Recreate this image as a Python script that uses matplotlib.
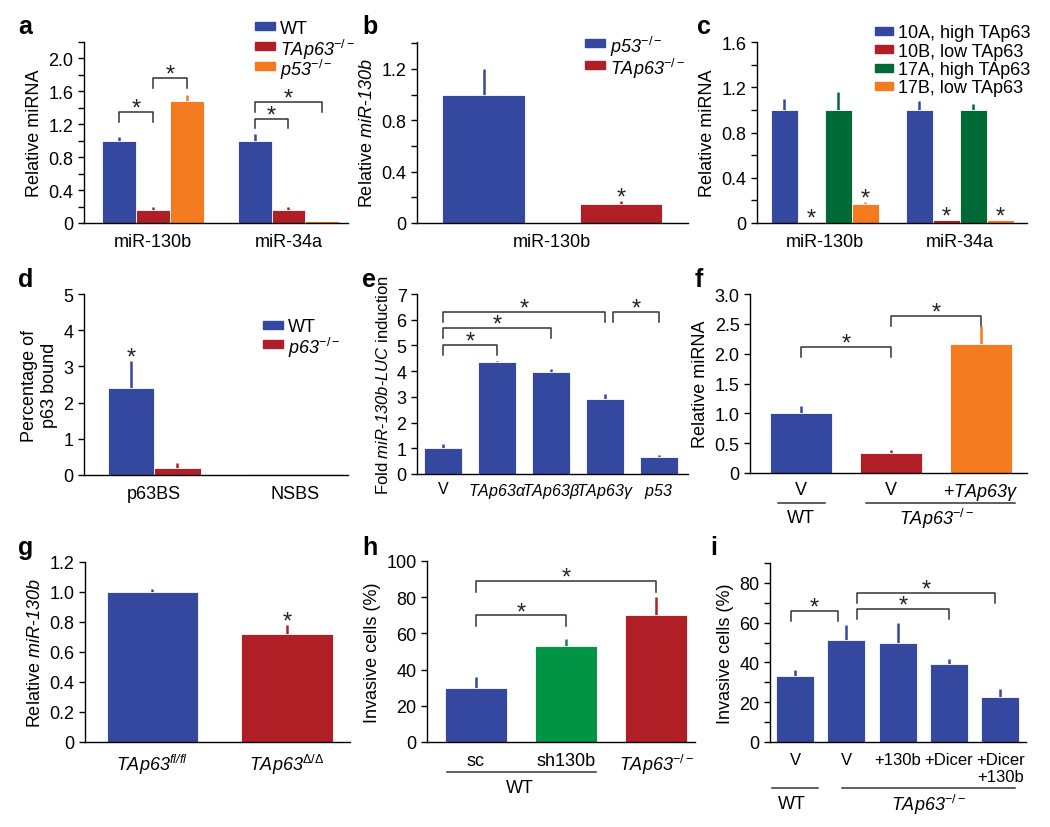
import numpy as np
import matplotlib
matplotlib.use('Agg')
import matplotlib.pyplot as plt
from matplotlib.patches import Rectangle
from matplotlib.ticker import MultipleLocator
from matplotlib.transforms import blended_transform_factory

plt.rcParams['font.family'] = ['Liberation Sans', 'DejaVu Sans']
plt.rcParams['mathtext.fontset'] = 'custom'
plt.rcParams['mathtext.rm'] = 'Liberation Sans'
plt.rcParams['mathtext.it'] = 'Liberation Sans:italic'
# sf slot used for fully italic gene names (digits included)
plt.rcParams['mathtext.sf'] = 'Liberation Sans:italic'
plt.rcParams['mathtext.bf'] = 'Liberation Sans:bold'
plt.rcParams['font.size'] = 13
plt.rcParams['axes.linewidth'] = 1.0

BLUE = '#3548a0'
RED = '#b01f26'
ORANGE = '#f47a20'
DKGREEN = '#006a36'
GREEN = '#009444'
INK = '#333333'

KO = r'$\mathsf{TAp63}^{-/-}$'

# ===================== data =====================
# a
a_groups = ['miR-130b', 'miR-34a']
a_series = ['WT', KO, r'$\mathsf{p53}^{-/-}$']
a_vals = [[1.00, 1.00], [0.16, 0.16], [1.48, 0.02]]
a_errs = [[0.05, 0.08], [0.03, 0.03], [0.07, 0.00]]
a_brackets = [(-0.25, 0.0, 1.35), (0.0, 0.25, 1.76), (0.75, 1.0, 1.27), (0.75, 1.25, 1.47)]

# b
b_labels = [r'$\mathsf{p53}^{-/-}$', KO]
b_vals = [1.00, 0.15]
b_errs = [0.20, 0.02]

# c
c_groups = ['miR-130b', 'miR-34a']
c_series = ['10A, high TAp63', '10B, low TAp63', '17A, high TAp63', '17B, low TAp63']
c_vals = [[1.00, 1.00], [0.01, 0.03], [1.00, 1.00], [0.17, 0.03]]
c_errs = [[0.10, 0.08], [0.00, 0.00], [0.16, 0.05], [0.02, 0.00]]

# d
d_groups = ['p63BS', 'NSBS']
d_series = ['WT', r'$\mathsf{p63}^{-/-}$']
d_vals = [[2.40, 0.04], [0.20, 0.04]]
d_errs = [[0.75, 0.00], [0.12, 0.00]]

# e
e_labels = ['V', r'$\mathsf{TAp63\alpha}$', r'$\mathsf{TAp63\beta}$', r'$\mathsf{TAp63\gamma}$',
            r'$\mathsf{p53}$']
e_vals = [1.00, 4.35, 3.95, 2.92, 0.68]
e_errs = [0.15, 0.05, 0.15, 0.18, 0.06]
e_brackets = [(0, 3, 6.30), (0, 2, 5.68), (0, 1, 5.02), (3.15, 4, 6.30)]

# f
f_labels = ['V', 'V', r'+$\mathsf{TAp63\gamma}$']
f_vals = [1.00, 0.34, 2.17]
f_errs = [0.13, 0.04, 0.30]
f_brackets = [(0, 1, 2.11), (1, 2, 2.63)]

# g
g_labels = [r'$\mathsf{TAp63}^{\mathsf{fl/fl}}$', r'$\mathsf{TAp63}^{\Delta/\Delta}$']
g_vals = [1.00, 0.72]
g_errs = [0.02, 0.06]

# h
h_labels = ['sc', 'sh130b', KO]
h_vals = [30, 53, 70]
h_errs = [6, 4, 10]
h_brackets = [(0, 1, 70), (0, 2, 89)]

# i
i_labels = ['V', 'V', '+130b', '+Dicer', '+Dicer\n+130b']
i_vals = [33, 51.5, 50, 39, 22.5]
i_errs = [3, 7.5, 10, 2.5, 4]
i_brackets = [(-0.08, 0.84, 66), (1.21, 3.0, 67), (1.21, 3.9, 75)]

# ===================== helpers =====================
W, H = 1050, 828
fig = plt.figure(figsize=(W / 100, H / 100), dpi=100)


def panel(box, letter, lpos):
    l, t, r, b = box
    ax = fig.add_axes([l / W, 1 - b / H, (r - l) / W, (b - t) / H])
    ax.spines[['top', 'right']].set_visible(False)
    ax.tick_params(axis='x', length=0, pad=7)
    ax.tick_params(axis='y', which='both', direction='out', length=4, width=1)
    fig.text(lpos[0] / W, 1 - lpos[1] / H, letter, fontsize=18, fontweight='bold',
             ha='left', va='center')
    return ax


def bars(ax, x, h, err, color, width):
    ax.bar(x, h, width, color=color, edgecolor='white', linewidth=0.6, zorder=2)
    ax.errorbar(x, h, yerr=[np.zeros(len(h)), err], fmt='none', ecolor=color,
                elinewidth=1.8, capsize=0, zorder=1)


def star(ax, x, y):
    ax.annotate('*', (x, y), xytext=(0, -2), textcoords='offset points',
                ha='center', va='baseline', fontsize=17, color='#222222')


def bracket(ax, x0, x1, y, drop):
    ax.plot([x0, x0, x1, x1], [y - drop, y, y, y - drop], color=INK, lw=1.1,
            clip_on=False, zorder=3)
    star(ax, (x0 + x1) / 2, y)


def group_line(ax, x0, x1, y, text, tx, ty):
    tr = blended_transform_factory(ax.transData, ax.transAxes)
    ax.plot([x0, x1], [y, y], color=INK, lw=1.1, transform=tr, clip_on=False)
    ax.text(tx, ty, text, transform=tr, ha='center', va='center')


def legend(labels, colors, x, y0, dy, pw=20, ph=8):
    # key placed in figure pixels: patch left edge x, first row centre y0
    for k, (lab, c) in enumerate(zip(labels, colors)):
        yc = y0 + k * dy
        fig.add_artist(Rectangle((x / W, 1 - (yc + ph / 2) / H), pw / W, ph / H,
                                 color=c, transform=fig.transFigure))
        fig.text((x + pw + 5) / W, 1 - yc / H, lab, ha='left', va='center_baseline',
                 fontsize=13)


# ===================== a =====================
ax = panel((84, 43, 348, 224), 'a', (18, 27))
xg = np.arange(len(a_groups))
colors = [BLUE, RED, ORANGE]
for s in range(3):
    bars(ax, xg + (s - 1) * 0.25, a_vals[s], a_errs[s], colors[s], 0.25)
for x0, x1, y in a_brackets:
    bracket(ax, x0, x1, y, 0.12)
ax.set_xlim(-0.51, 1.44)
ax.set_ylim(0, 2.2)
ax.set_yticks([0, 0.4, 0.8, 1.2, 1.6, 2.0], ['0', '0.4', '0.8', '1.2', '1.6', '2.0'])
ax.yaxis.set_minor_locator(MultipleLocator(0.2))
ax.set_xticks(xg, a_groups)
ax.set_ylabel('Relative miRNA')
legend(a_series, colors, 255, 27, 20)

# ===================== b =====================
ax = panel((417, 43, 688, 224), 'b', (362, 27))
xb = np.arange(2)
for k in range(2):
    bars(ax, [xb[k]], [b_vals[k]], [b_errs[k]], [BLUE, RED][k], 0.6)
star(ax, 1, b_vals[1] + b_errs[1])
ax.set_xlim(-0.485, 1.49)
ax.set_ylim(0, 1.41)
ax.set_yticks([0, 0.4, 0.8, 1.2], ['0', '0.4', '0.8', '1.2'])
ax.yaxis.set_minor_locator(MultipleLocator(0.2))
ax.set_xticks([0.5], ['miR-130b'])
ax.set_ylabel(r'Relative $\mathsf{miR}$-$\mathsf{130b}$')
legend(b_labels, [BLUE, RED], 585, 44, 22)

# ===================== c =====================
ax = panel((757, 43, 1027, 224), 'c', (697, 27))
xg = np.arange(len(c_groups))
colors = [BLUE, RED, DKGREEN, ORANGE]
for s in range(4):
    xs = xg + (s - 1.5) * 0.2
    bars(ax, xs, c_vals[s], c_errs[s], colors[s], 0.2)
    if s in (1, 3):
        for xx, v, e in zip(xs, c_vals[s], c_errs[s]):
            star(ax, xx, v + e)
ax.set_xlim(-0.5, 1.5)
ax.set_ylim(0, 1.6)
ax.set_yticks([0, 0.4, 0.8, 1.2, 1.6], ['0', '0.4', '0.8', '1.2', '1.6'])
ax.yaxis.set_minor_locator(MultipleLocator(0.2))
ax.set_xticks(xg, c_groups)
ax.set_ylabel('Relative miRNA')
legend(c_series, colors, 875, 32, 18.3, pw=18)

# ===================== d =====================
ax = panel((84, 295, 348, 476), 'd', (18, 280))
xg = np.arange(len(d_groups))
colors = [BLUE, RED]
for s in range(2):
    bars(ax, xg + (s - 0.5) * 0.33, d_vals[s], d_errs[s], colors[s], 0.33)
star(ax, -0.165, d_vals[0][0] + d_errs[0][0])
ax.set_xlim(-0.5, 1.38)
ax.set_ylim(0, 5)
ax.set_yticks(range(6))
ax.set_xticks(xg, d_groups)
ax.set_ylabel('Percentage of\np63 bound')
legend(d_series, colors, 263, 326, 18.5)

# ===================== e =====================
ax = panel((417, 295, 688, 475), 'e', (362, 280))
xe = np.arange(len(e_labels))
bars(ax, xe, e_vals, e_errs, BLUE, 0.7)
for x0, x1, y in e_brackets:
    bracket(ax, x0, x1, y, 0.4)
ax.set_xlim(-0.48, 4.54)
ax.set_ylim(0, 7)
ax.set_yticks(range(8))
ax.set_xticks(xe, e_labels)
ax.tick_params(axis='x', pad=5, labelsize=11.5)
ax.set_ylabel(r'Fold $\mathsf{miR}$-$\mathsf{130b}$-$\mathsf{LUC}$ induction', fontsize=12)

# ===================== f =====================
ax = panel((750, 295, 1027, 474), 'f', (695, 280))
xf = np.arange(len(f_labels))
for k, c in enumerate([BLUE, RED, ORANGE]):
    bars(ax, [xf[k]], [f_vals[k]], [f_errs[k]], c, 0.69)
for x0, x1, y in f_brackets:
    bracket(ax, x0, x1, y, 0.17)
ax.set_xlim(-0.57, 2.51)
ax.set_ylim(0, 3.0)
ax.set_yticks([0, 0.5, 1.0, 1.5, 2.0, 2.5, 3.0], ['0', '0.5', '1.0', '1.5', '2.0', '2.5', '3.0'])
ax.set_xticks(xf, f_labels)
ax.tick_params(axis='x', pad=6)
ax.set_ylabel('Relative miRNA')
group_line(ax, -0.26, 0.26, -0.168, 'WT', 0.0, -0.25)
group_line(ax, 0.72, 2.38, -0.168, KO, 1.5, -0.25)

# ===================== g =====================
ax = panel((85, 563, 350, 743), 'g', (18, 548))
xgg = np.arange(2)
for k, c in enumerate([BLUE, RED]):
    bars(ax, [xgg[k]], [g_vals[k]], [g_errs[k]], c, 0.68)
star(ax, 1, g_vals[1] + g_errs[1])
ax.set_xlim(-0.5, 1.47)
ax.set_ylim(0, 1.2)
ax.set_yticks([0, 0.2, 0.4, 0.6, 0.8, 1.0, 1.2], ['0', '0.2', '0.4', '0.6', '0.8', '1.0', '1.2'])
ax.set_xticks(xgg, g_labels)
ax.set_ylabel(r'Relative $\mathsf{miR}$-$\mathsf{130b}$')

# ===================== h =====================
ax = panel((427, 562, 695, 743), 'h', (362, 548))
xh = np.arange(3)
for k, c in enumerate([BLUE, GREEN, RED]):
    bars(ax, [xh[k]], [h_vals[k]], [h_errs[k]], c, 0.69)
for x0, x1, y in h_brackets:
    bracket(ax, x0, x1, y, 6)
ax.set_xlim(-0.54, 2.43)
ax.set_ylim(0, 100)
ax.set_yticks(range(0, 101, 20))
ax.set_xticks(xh, h_labels)
ax.set_ylabel('Invasive cells (%)')
group_line(ax, -0.32, 1.33, -0.166, 'WT', 0.49, -0.254)

# ===================== i =====================
ax = panel((770, 564, 1026, 743), 'i', (710, 548))
xi = np.arange(len(i_labels))
bars(ax, xi, i_vals, i_errs, BLUE, 0.74)
for x0, x1, y in i_brackets:
    bracket(ax, x0, x1, y, 5)
ax.set_xlim(-0.49, 4.5)
ax.set_ylim(0, 90)
ax.set_yticks(range(0, 81, 20))
ax.yaxis.set_minor_locator(MultipleLocator(10))
ax.set_xticks(xi, i_labels)
ax.tick_params(axis='x', labelsize=12)
ax.set_ylabel('Invasive cells (%)')
group_line(ax, -0.45, 0.45, -0.257, 'WT', -0.06, -0.346)
group_line(ax, 0.92, 4.29, -0.257, KO, 2.6, -0.346)

fig.savefig('out.png', dpi=100)
